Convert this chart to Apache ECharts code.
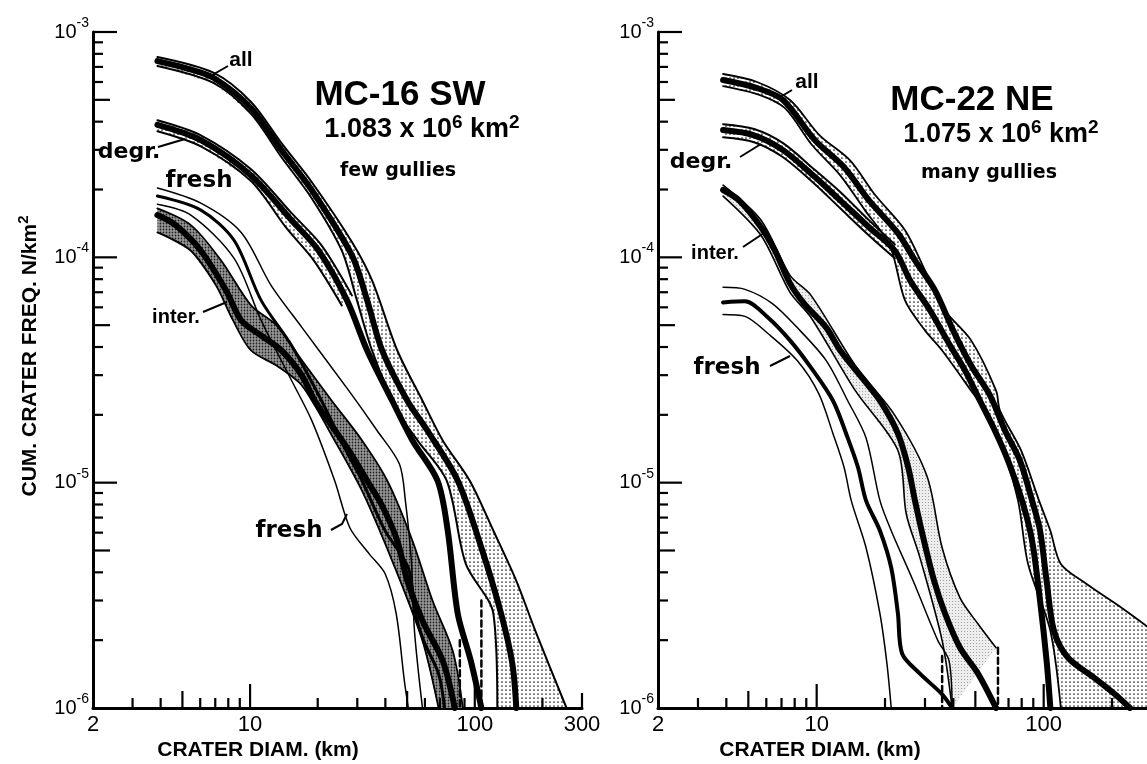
<!DOCTYPE html>
<html><head><meta charset="utf-8">
<script src="https://cdn.jsdelivr.net/npm/echarts@6/dist/echarts.min.js"></script>
<style>html,body{margin:0;padding:0;background:#fff}#c{width:1147px;height:764px}</style>
</head><body><div id="c"></div>
<script>
// ---------- axis ranges and tick values ----------
const X_MIN = 2, X_MAX = 300, Y_MIN = 1e-6, Y_MAX = 1e-3;
const X_TICKS = [3,4,5,6,7,8,9,10,20,30,40,50,60,70,80,90,100,200,300];
const Y_TICKS = [2e-6,3e-6,4e-6,5e-6,6e-6,7e-6,8e-6,9e-6,1e-5,2e-5,3e-5,4e-5,5e-5,6e-5,7e-5,8e-5,9e-5,
                 1e-4,2e-4,3e-4,4e-4,5e-4,6e-4,7e-4,8e-4,9e-4,1e-3];

// ---------- MC-16 SW (few gullies) : [diameter km, cumulative N/km^2] ----------
const L_allMid = [[3.87,7.43e-4],[5.17,6.92e-4],[6.9,6.25e-4],[10.1,4.59e-4],[13.8,2.99e-4],[18.8,1.99e-4],[28.4,1.02e-4],[33.2,6.44e-5],[38.7,3.86e-5],[50.1,2.31e-5],[61.6,1.70e-5],[84,1.02e-5],[107,5.14e-6],[131,2.62e-6],[147,1.57e-6],[153,1e-6]];
const L_allHi  = [[3.87,7.74e-4],[6.9,6.58e-4],[10.1,4.89e-4],[13.8,3.21e-4],[18.8,2.16e-4],[28.4,1.17e-4],[34.9,7.9e-5],[45.2,3.86e-5],[58.5,2.31e-5],[72,1.54e-5],[95,1.02e-5],[121,6.12e-6],[153,3.67e-6],[186,2.2e-6],[256,1e-6]];
const L_allLo  = [[3.87,7.06e-4],[6.9,5.93e-4],[10.1,4.33e-4],[13.8,2.78e-4],[18.8,1.83e-4],[25.6,1.07e-4],[29.9,6.44e-5],[34.9,3.86e-5],[45.2,2.09e-5],[55.6,1.54e-5],[75,1.02e-5],[91.2,4.36e-6],[121,2.62e-6],[126,1e-6]];
const L_degrMid = [[3.87,3.87e-4],[6.04,3.31e-4],[10.1,2.31e-4],[15.3,1.46e-4],[20.2,1.07e-4],[27,6.44e-5],[33.2,3.86e-5],[42.9,2.31e-5],[52.8,1.54e-5],[68.3,1.02e-5],[75.8,6.12e-6],[84,2.62e-6],[96,1.62e-6],[107,1e-6]];
const L_degrHi  = [[3.87,4.06e-4],[6.04,3.48e-4],[10.1,2.46e-4],[15.3,1.57e-4],[20.8,1.13e-4],[28.4,6.78e-5]];
const L_degrLo  = [[3.87,3.63e-4],[6.04,3.11e-4],[10.1,2.18e-4],[14.5,1.35e-4],[19.2,9.7e-5],[25.6,6.12e-5]];
const L_freshHi  = [[3.87,2.03e-4],[6.04,1.74e-4],[9.13,1.29e-4],[12.4,7.51e-5],[17.0,4.89e-5],[27.5,2.56e-5],[36.8,1.70e-5],[46.2,1.21e-5],[49.1,8.32e-6],[52.2,4.5e-6],[53.9,2.2e-6],[58.5,1e-6]];
const L_freshMid = [[3.87,1.87e-4],[6.04,1.62e-4],[8.49,1.19e-4],[11.2,6.44e-5],[15.3,4.06e-5],[20.8,2.31e-5],[26.7,1.39e-5],[31.5,1.02e-5],[39.9,6.12e-6],[50.6,4.19e-6],[54.5,2.62e-6],[59.2,1.99e-6],[69,1.42e-6],[73.4,1e-6]];
const L_freshLo  = [[3.87,1.72e-4],[5.45,1.54e-4],[8.49,9.9e-5],[11.2,5.25e-5],[15.3,2.84e-5],[18.8,1.89e-5],[23.8,1.02e-5],[27.8,6.31e-6],[33.9,4.83e-6],[39.9,3.94e-6],[44.7,2.62e-6],[48.6,1.32e-6],[50.6,1e-6]];
const L_interMid = [[3.87,1.54e-4],[4.66,1.39e-4],[6.04,1.07e-4],[7.82,7.13e-5],[9.13,5.25e-5],[11.2,4.5e-5],[13.8,3.86e-5],[17.0,2.99e-5],[19.4,2.31e-5],[23.1,1.79e-5],[27.5,1.39e-5],[33.2,1.02e-5],[38.7,7.9e-6],[45.2,5.52e-6],[50.1,3.67e-6],[58.5,2.44e-6],[72,1.62e-6],[81.5,1e-6]];
const L_interHi  = [[3.87,1.65e-4],[5.45,1.39e-4],[7.42,9.7e-5],[10.1,6.12e-5],[13.1,4.99e-5],[17.0,3.49e-5],[23.1,2.31e-5],[31.5,1.54e-5],[40.8,1.02e-5],[52.8,5.52e-6],[64.9,2.99e-6],[79.8,1.79e-6],[88.5,1e-6]];
const L_interLo  = [[3.87,1.29e-4],[5.45,1.07e-4],[7.05,7.51e-5],[8.4,5.25e-5],[10.1,3.86e-5],[13.1,3.31e-5],[17.0,2.70e-5],[23.1,1.62e-5],[31.5,9.2e-6],[42.9,4.5e-6],[58.5,1.99e-6],[69,1e-6]];
const L_dash1 = [[107,3.0e-6],[107,1e-6]];
const L_dash2 = [[85.8,2.0e-6],[85.8,1e-6]];

// ---------- MC-22 NE (many gullies) ----------
const R_allMid = [[3.87,6.12e-4],[5.46,5.64e-4],[7.11,4.99e-4],[9.83,3.31e-4],[13.2,2.51e-4],[17.0,1.79e-4],[22.8,1.28e-4],[27.1,9.7e-5],[33.2,7.13e-5],[39.9,4.74e-5],[47.9,3.31e-5],[58.0,2.44e-5],[67.6,1.70e-5],[78.7,1.25e-5],[88.9,8.32e-6],[96.4,6.12e-6],[103,3.67e-6],[111,2.2e-6],[128,1.67e-6],[167,1.36e-6],[206,1.15e-6],[240,1e-6]];
const R_allHi  = [[3.87,6.51e-4],[5.46,6.0e-4],[7.63,4.99e-4],[10.3,3.48e-4],[14.0,2.70e-4],[18.1,1.89e-4],[24.5,1.32e-4],[30.0,8.75e-5],[35.7,6.0e-5],[47.9,4.28e-5],[61.7,2.56e-5],[64.2,2.09e-5],[79.5,1.39e-5],[95.4,8.32e-6],[107,6.12e-6],[119,4.36e-6],[154,3.56e-6],[221,2.78e-6],[325,2.09e-6]];
const R_allLo  = [[3.87,5.75e-4],[5.63,5.25e-4],[7.25,4.59e-4],[9.54,3.15e-4],[12.7,2.31e-4],[16.3,1.62e-4],[21.0,1.13e-4],[24.5,6.44e-5],[30.0,4.74e-5],[35.7,3.86e-5],[47.9,2.56e-5],[55.1,2.09e-5],[66.2,1.39e-5],[77.1,8.32e-6],[85.3,4.36e-6],[107,2.2e-6],[119,1e-6]];
const R_degrMid = [[3.87,3.67e-4],[5.30,3.48e-4],[7.11,2.99e-4],[9.83,2.27e-4],[12.7,1.79e-4],[17.0,1.36e-4],[22.1,1.07e-4],[25.8,7.9e-5],[31.6,5.81e-5],[38.7,4.06e-5],[45.0,3.15e-5],[52.4,2.31e-5],[61.0,1.70e-5],[69.7,1.25e-5],[80.3,8.32e-6],[88.9,5.52e-6],[96.4,2.99e-6],[103,1.62e-6],[107,1e-6]];
const R_degrHi  = [[3.87,3.90e-4],[5.30,3.71e-4],[7.11,3.21e-4],[9.83,2.44e-4],[12.7,1.95e-4],[17.0,1.46e-4],[22.1,1.14e-4]];
const R_degrLo  = [[3.87,3.41e-4],[5.30,3.24e-4],[7.11,2.78e-4],[9.83,2.11e-4],[12.7,1.65e-4],[17.0,1.25e-4],[22.1,9.9e-5]];
const R_interMid = [[3.87,1.99e-4],[4.55,1.79e-4],[5.69,1.36e-4],[6.55,1.07e-4],[7.63,7.66e-5],[8.79,6.25e-5],[11.0,4.89e-5],[12.7,3.86e-5],[15.8,2.93e-5],[19.0,2.31e-5],[22.8,1.65e-5],[25.3,1.17e-5],[27.1,8.32e-6],[29.7,5.52e-6],[32.9,3.67e-6],[36.8,2.62e-6],[42.8,1.85e-6],[51.4,1.42e-6],[61.7,1e-6]];
const R_interHi  = [[3.87,2.09e-4],[5.69,1.46e-4],[7.63,8.32e-5],[9.44,6.78e-5],[14.8,3.31e-5],[22.1,1.99e-5],[30.6,1.07e-5],[35.7,5.14e-6],[42.8,3.08e-6],[51.4,2.36e-6],[61.7,1.85e-6]];
const R_interLo  = [[3.87,1.87e-4],[5.69,1.25e-4],[7.63,6.99e-5],[9.44,5.41e-5],[14.8,2.56e-5],[22.8,1.39e-5],[24.8,7.28e-6],[28.5,4.65e-6],[35.7,1.99e-6],[39.5,1e-6]];
const R_freshMid = [[3.87,6.31e-5],[4.83,6.38e-5],[6.10,5.41e-5],[7.63,4.28e-5],[9.44,3.24e-5],[11.8,2.31e-5],[13.7,1.58e-5],[15.2,1.17e-5],[16.5,8.32e-6],[19.0,6.12e-6],[21.3,4.19e-6],[22.8,2.62e-6],[23.8,1.74e-6],[28.5,1.42e-6],[35.7,1.15e-6],[39.5,1e-6]];
const R_freshHi  = [[3.87,7.36e-5],[4.83,7.21e-5],[6.36,6.25e-5],[8.19,4.89e-5],[11.0,3.49e-5],[13.7,2.31e-5],[16.5,1.58e-5],[19.0,8.32e-6],[21.3,6.12e-6],[26.6,3.67e-6],[34.2,1.99e-6],[38.3,1.62e-6],[39.5,1e-6]];
const R_freshLo  = [[3.87,5.58e-5],[4.83,5.47e-5],[6.10,4.59e-5],[8.19,3.49e-5],[10.2,2.49e-5],[11.8,1.65e-5],[13.2,1.17e-5],[14.2,8.32e-6],[16.5,5.14e-6],[19.0,2.62e-6],[20.4,1.57e-6],[21.3,1e-6]];
const R_dash1 = [[62.9,1.85e-6],[62.9,1e-6]];
const R_dash2 = [[35.7,1.7e-6],[35.7,1e-6]];

// ---------- rendering ----------
const FONT = '"Liberation Sans", Arial, Helvetica, sans-serif';
const WIDE = '"DejaVu Sans", "Liberation Sans", sans-serif';

function dotPattern(step, r, color, bg) {
  const c = document.createElement('canvas'); c.width = step; c.height = step;
  const g = c.getContext('2d');
  if (bg) { g.fillStyle = bg; g.fillRect(0, 0, step, step); }
  g.fillStyle = color; g.beginPath(); g.arc(step / 2, step / 2, r, 0, Math.PI * 2); g.fill();
  return c;
}
const STIPPLE = { image: dotPattern(4, 0.85, '#222'), repeat: 'repeat' };
const MOTTLE = { image: dotPattern(3, 0.9, '#222', '#9a9a9a'), repeat: 'repeat' };
const LIGHTMOTTLE = { image: dotPattern(3, 0.6, '#999', '#eeeeee'), repeat: 'repeat' };

function band(idx, hi, lo, fill, closeBottom) {
  return {
    type: 'custom', xAxisIndex: idx, yAxisIndex: idx, silent: true, z: 1, clip: true,
    data: [[10, 1e-4]],
    renderItem: function (params, api) {
      const pts = hi.map(p => api.coord(p));
      if (closeBottom) { const last = hi[hi.length - 1]; pts.push(api.coord([last[0], Y_MIN])); }
      const back = lo.slice().reverse().map(p => api.coord(p));
      return { type: 'polygon', shape: { points: pts.concat(back) }, style: { fill: fill } };
    }
  };
}
function ln(idx, data, w, dashed) {
  return {
    type: 'line', xAxisIndex: idx, yAxisIndex: idx, data: data, symbol: 'none', showSymbol: false,
    smooth: dashed ? false : 0.3, silent: true, z: 3,
    lineStyle: { color: '#000', width: w, type: dashed ? [6, 4] : 'solid', cap: 'round', join: 'round' }
  };
}
function tickLen(v, isX) {
  const m = Math.round(v / Math.pow(10, Math.floor(Math.log10(v) + 1e-9)));
  if (isX && v === 300) return 15;
  if (m === 1) return 24;
  if (m === 5) return 17;
  return 10;
}
function xTicks(idx) {
  return {
    type: 'custom', xAxisIndex: idx, yAxisIndex: idx, silent: true, z: 6,
    data: X_TICKS.map(v => [v, Y_MIN]),
    renderItem: function (params, api) {
      const v = api.value(0); const p = api.coord([v, Y_MIN]); const L = tickLen(v, true);
      return { type: 'line', shape: { x1: p[0], y1: p[1], x2: p[0], y2: p[1] - L }, style: { stroke: '#000', lineWidth: 2.2 } };
    }
  };
}
function yTicks(idx) {
  return {
    type: 'custom', xAxisIndex: idx, yAxisIndex: idx, silent: true, z: 6,
    data: Y_TICKS.map(v => [X_MIN, v]),
    renderItem: function (params, api) {
      const v = api.value(1); const p = api.coord([X_MIN, v]); const L = tickLen(v, false);
      return { type: 'line', shape: { x1: p[0], y1: p[1], x2: p[0] + L, y2: p[1] }, style: { stroke: '#000', lineWidth: 2.2 } };
    }
  };
}

function xAxisCfg(idx, showMax) {
  return {
    type: 'log', logBase: 10, gridIndex: idx, min: X_MIN, max: X_MAX,
    axisLine: { show: true, lineStyle: { color: '#000', width: 3 } },
    axisTick: { show: false }, splitLine: { show: false }, minorTick: { show: false },
    axisLabel: { show: true, color: '#000', fontSize: 22, fontFamily: FONT, margin: 6, showMaxLabel: showMax,
      formatter: v => String(Math.round(v)) }
  };
}
function yAxisCfg(idx) {
  return {
    type: 'log', logBase: 10, gridIndex: idx, min: Y_MIN, max: Y_MAX,
    axisLine: { show: true, lineStyle: { color: '#000', width: 3 } },
    axisTick: { show: false }, splitLine: { show: false }, minorTick: { show: false },
    axisLabel: {
      color: '#000', margin: 4,
      formatter: v => '{b|10}{s|' + Math.round(Math.log10(v)) + '}',
      rich: {
        b: { fontSize: 20, fontFamily: FONT, color: '#000', lineHeight: 20 },
        s: { fontSize: 14, fontFamily: FONT, color: '#000', lineHeight: 14, padding: [0, 0, 18, 0] }
      }
    }
  };
}

function txt(x, y, text, size, weight, family) {
  return {
    type: 'text', x: x, y: y, z: 10,
    style: { text: text, fontSize: size, fontWeight: weight || 'bold', fontFamily: family || FONT,
      fill: '#000', align: 'center', verticalAlign: 'middle' }
  };
}
function leader(pts) {
  return { type: 'polyline', z: 10, shape: { points: pts }, style: { stroke: '#000', lineWidth: 2, fill: null } };
}
const supRich = {
  a: { fontSize: 27, fontWeight: 'bold', fontFamily: FONT, fill: '#000', lineHeight: 27 },
  s: { fontSize: 19, fontWeight: 'bold', fontFamily: FONT, fill: '#000', lineHeight: 19, padding: [0, 0, 14, 0] }
};

const series = [
  // left bands
  band(0, L_allHi, L_allLo, STIPPLE),
  band(0, L_degrHi, L_degrLo, STIPPLE),
  band(0, L_interHi, L_interLo, MOTTLE),
  ln(0, L_allHi, 2), ln(0, L_allLo, 2), ln(0, L_allMid, 6),
  ln(0, L_degrHi, 2), ln(0, L_degrLo, 2), ln(0, L_degrMid, 6),
  ln(0, L_interHi, 1.8), ln(0, L_interLo, 1.8), ln(0, L_interMid, 6),
  ln(0, L_freshHi, 1.5), ln(0, L_freshLo, 1.5), ln(0, L_freshMid, 3),
  ln(0, L_dash1, 2.5, true), ln(0, L_dash2, 2.5, true),
  // right bands
  band(1, R_allHi, R_allLo, STIPPLE, true),
  band(1, R_degrHi, R_degrLo, STIPPLE),
  band(1, R_interHi, R_interLo, LIGHTMOTTLE),
  ln(1, R_allHi, 1.8), ln(1, R_allLo, 1.8), ln(1, R_allMid, 6),
  ln(1, R_degrHi, 2), ln(1, R_degrLo, 2), ln(1, R_degrMid, 6),
  ln(1, R_interHi, 1.6), ln(1, R_interLo, 1.6), ln(1, R_interMid, 6),
  ln(1, R_freshHi, 1.5), ln(1, R_freshLo, 1.5), ln(1, R_freshMid, 4),
  ln(1, R_dash1, 2.5, true), ln(1, R_dash2, 2.5, true),
  xTicks(0), yTicks(0), xTicks(1), yTicks(1)
];

const graphic = [
  // y-axis title
  { type: 'text', x: 30, y: 356, rotation: Math.PI / 2, z: 10,
    style: { text: '{a|CUM. CRATER FREQ. N/km}{s|2}', align: 'center', verticalAlign: 'middle',
      rich: { a: { fontSize: 21, fontWeight: 'bold', fontFamily: FONT, fill: '#000', lineHeight: 21 },
              s: { fontSize: 15, fontWeight: 'bold', fontFamily: FONT, fill: '#000', lineHeight: 15, padding: [0, 0, 12, 0] } } } },
  // x-axis titles
  txt(258, 750, 'CRATER DIAM. (km)', 21, 'bold'),
  txt(820, 750, 'CRATER DIAM. (km)', 21, 'bold'),
  // left panel titles
  txt(400, 95, 'MC-16 SW', 35, 'bold'),
  { type: 'text', x: 422, y: 130, z: 10, style: { text: '{a|1.083 x 10}{s|6}{a| km}{s|2}', align: 'center', verticalAlign: 'middle', rich: supRich } },
  txt(398, 171, 'few gullies', 19, 'bold', WIDE),
  // right panel titles
  txt(972, 100, 'MC-22 NE', 35, 'bold'),
  { type: 'text', x: 1001, y: 135, z: 10, style: { text: '{a|1.075 x 10}{s|6}{a| km}{s|2}', align: 'center', verticalAlign: 'middle', rich: supRich } },
  txt(989, 173, 'many gullies', 19, 'bold', WIDE),
  // left curve labels
  txt(241, 60, 'all', 21, 'bold'), leader([[228, 66], [207, 78]]),
  txt(129, 152, 'degr.', 22, 'bold', WIDE), leader([[158, 147], [185, 139]]),
  txt(199, 181, 'fresh', 23, 'bold', WIDE),
  txt(176, 317, 'inter.', 20, 'bold'), leader([[203, 312], [227, 302]]),
  txt(289, 531, 'fresh', 23, 'bold', WIDE), leader([[331, 530], [342, 524], [347, 514]]),
  // right curve labels
  txt(807, 82, 'all', 21, 'bold'), leader([[792, 90], [777, 99]]),
  txt(701, 162, 'degr.', 22, 'bold', WIDE), leader([[740, 157], [761, 144]]),
  txt(715, 253, 'inter.', 20, 'bold'), leader([[743, 247], [764, 233]]),
  txt(727, 368, 'fresh', 23, 'bold', WIDE), leader([[770, 366], [790, 356]])
];

const chart = echarts.init(document.getElementById('c'), null, { renderer: 'canvas' });
chart.setOption({
  backgroundColor: '#fff',
  animation: false,
  grid: [
    { left: 93, top: 32, width: 489, height: 676, containLabel: false, outerBoundsMode: 'none' },
    { left: 658, top: 32, width: 494, height: 676, containLabel: false, outerBoundsMode: 'none' }
  ],
  xAxis: [xAxisCfg(0, true), xAxisCfg(1, false)],
  yAxis: [yAxisCfg(0), yAxisCfg(1)],
  series: series,
  graphic: graphic
});
</script>
</body></html>
